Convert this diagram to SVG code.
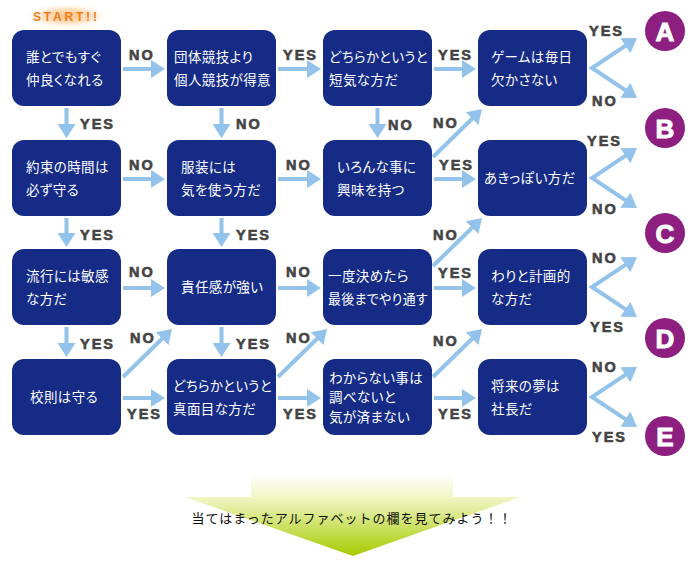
<svg xmlns="http://www.w3.org/2000/svg" width="690" height="580" viewBox="0 0 690 580">
<defs>
<style>
.node rect{fill:#152b86;}
.node text{fill:#ffffff;font-family:"Noto Sans CJK JP","Noto Sans",sans-serif;font-size:13.5px;font-feature-settings:"palt";letter-spacing:0.4px;}
.conn line,.conn path{stroke:#93c3ea;stroke-width:4;fill:none;marker-end:url(#ah);}
.conn path.chev{marker-start:url(#ah);stroke-linejoin:miter;}
.lbl{font-family:"Liberation Sans",Arial,sans-serif;font-weight:bold;font-size:14.5px;fill:#444444;stroke:#444444;stroke-width:0.6px;letter-spacing:2px;}
.res circle{fill:#8d1f81;}
.res text{fill:#ffffff;font-family:"Liberation Sans",Arial,sans-serif;font-weight:bold;font-size:26px;text-anchor:middle;stroke:#ffffff;stroke-width:1;}
</style>
<marker id="ah" viewBox="0 0 14 18" refX="4" refY="9" markerWidth="14" markerHeight="18" markerUnits="userSpaceOnUse" orient="auto-start-reverse">
<path d="M0,0 L14,9 L0,18 Z" fill="#93c3ea"/>
</marker>
<radialGradient id="glow" cx="0.5" cy="0.5" r="0.5">
<stop offset="0" stop-color="#ffbf80" stop-opacity="1"/>
<stop offset="0.55" stop-color="#ffd9b0" stop-opacity="0.75"/>
<stop offset="1" stop-color="#ffffff" stop-opacity="0"/>
</radialGradient>
<linearGradient id="bigarrow" gradientUnits="userSpaceOnUse" x1="0" y1="473" x2="0" y2="556">
<stop offset="0" stop-color="#ffffff"/>
<stop offset="0.29" stop-color="#f1f6c6"/>
<stop offset="1" stop-color="#a6cb00"/>
</linearGradient>
</defs>

<g id="start">
<ellipse cx="67" cy="16" rx="44" ry="13" fill="url(#glow)"/>
<text x="33" y="20.5" font-family="Liberation Sans, Arial, sans-serif" font-weight="bold" font-size="12" fill="#f07d1c" letter-spacing="2.8">START!!</text>
</g>

<g id="connectors" class="conn">
<line x1="123" y1="69" x2="155" y2="69"/>
<line x1="278" y1="69" x2="311" y2="69"/>
<line x1="434" y1="69" x2="466" y2="69"/>
<line x1="123" y1="179" x2="155" y2="179"/>
<line x1="278" y1="179" x2="311" y2="179"/>
<line x1="434" y1="179" x2="466" y2="179"/>
<line x1="123" y1="288" x2="155" y2="288"/>
<line x1="278" y1="288" x2="311" y2="288"/>
<line x1="434" y1="288" x2="466" y2="288"/>
<line x1="123" y1="398" x2="155" y2="398"/>
<line x1="278" y1="398" x2="311" y2="398"/>
<line x1="434" y1="398" x2="466" y2="398"/>
<line x1="66.5" y1="108" x2="66.5" y2="128"/>
<line x1="66.5" y1="218" x2="66.5" y2="237"/>
<line x1="66.5" y1="327" x2="66.5" y2="347"/>
<line x1="221.5" y1="108" x2="221.5" y2="128"/>
<line x1="221.5" y1="218" x2="221.5" y2="237"/>
<line x1="221.5" y1="327" x2="221.5" y2="347"/>
<line x1="377.5" y1="108" x2="377.5" y2="128"/>
<line x1="433" y1="157" x2="474.9" y2="116"/>
<line x1="433" y1="266" x2="474.9" y2="225"/>
<line x1="123" y1="377" x2="164.9" y2="336"/>
<line x1="278" y1="377" x2="319.9" y2="336"/>
<line x1="433" y1="377" x2="474.9" y2="336"/>
<path class="chev" d="M628.7,43.6 L592,68 L628.7,92.4"/>
<path class="chev" d="M628.7,153.6 L592,178 L628.7,202.4"/>
<path class="chev" d="M628.7,262.6 L592,287 L628.7,311.4"/>
<path class="chev" d="M628.7,372.6 L592,397 L628.7,421.4"/>
</g>

<g id="labels" class="lbl">
<text x="129" y="60">NO</text>
<text x="283" y="60">YES</text>
<text x="438" y="60">YES</text>
<text x="80" y="129">YES</text>
<text x="236" y="129">NO</text>
<text x="388" y="130">NO</text>
<text x="433" y="128">NO</text>
<text x="129" y="170">NO</text>
<text x="286" y="170">NO</text>
<text x="439" y="170">YES</text>
<text x="80" y="240">YES</text>
<text x="236" y="240">YES</text>
<text x="433" y="240">NO</text>
<text x="129" y="277">NO</text>
<text x="286" y="277">NO</text>
<text x="438" y="278">YES</text>
<text x="80" y="349">YES</text>
<text x="236" y="349">YES</text>
<text x="130" y="343">NO</text>
<text x="286" y="343">NO</text>
<text x="433" y="346">NO</text>
<text x="127" y="419">YES</text>
<text x="283" y="419">YES</text>
<text x="438" y="419">YES</text>
<text x="589" y="36">YES</text>
<text x="592" y="106">NO</text>
<text x="587" y="146">YES</text>
<text x="592" y="214">NO</text>
<text x="592" y="263">NO</text>
<text x="590" y="332">YES</text>
<text x="592" y="372">NO</text>
<text x="592" y="442">YES</text>
</g>

<g id="n11" class="node"><rect x="12" y="30" width="109" height="76" rx="12"/><text x="26" y="62">誰とでもすぐ</text><text x="26" y="85">仲良くなれる</text></g>
<g id="n12" class="node"><rect x="167" y="30" width="109" height="76" rx="12"/><text x="174" y="62">団体競技より</text><text x="174" y="85">個人競技が得意</text></g>
<g id="n13" class="node"><rect x="323" y="30" width="109" height="76" rx="12"/><text x="329" y="62" textLength="99" lengthAdjust="spacingAndGlyphs">どちらかというと</text><text x="329" y="85">短気な方だ</text></g>
<g id="n14" class="node"><rect x="478" y="30" width="109" height="76" rx="12"/><text x="491" y="62">ゲームは毎日</text><text x="491" y="85">欠かさない</text></g>

<g id="n21" class="node"><rect x="12" y="140" width="109" height="76" rx="12"/><text x="26" y="172">約束の時間は</text><text x="26" y="195">必ず守る</text></g>
<g id="n22" class="node"><rect x="167" y="140" width="109" height="76" rx="12"/><text x="181" y="172">服装には</text><text x="181" y="195">気を使う方だ</text></g>
<g id="n23" class="node"><rect x="323" y="140" width="109" height="76" rx="12"/><text x="337" y="172">いろんな事に</text><text x="337" y="195">興味を持つ</text></g>
<g id="n24" class="node"><rect x="478" y="140" width="109" height="76" rx="12"/><text x="484" y="183">あきっぽい方だ</text></g>

<g id="n31" class="node"><rect x="12" y="249" width="109" height="76" rx="12"/><text x="26" y="281">流行には敏感</text><text x="26" y="304">な方だ</text></g>
<g id="n32" class="node"><rect x="167" y="249" width="109" height="76" rx="12"/><text x="181" y="292">責任感が強い</text></g>
<g id="n33" class="node"><rect x="323" y="249" width="109" height="76" rx="12"/><text x="328" y="281">一度決めたら</text><text x="328" y="304" textLength="100" lengthAdjust="spacingAndGlyphs">最後までやり通す</text></g>
<g id="n34" class="node"><rect x="478" y="249" width="109" height="76" rx="12"/><text x="491" y="281">わりと計画的</text><text x="491" y="304">な方だ</text></g>

<g id="n41" class="node"><rect x="12" y="359" width="109" height="76" rx="12"/><text x="30" y="402">校則は守る</text></g>
<g id="n42" class="node"><rect x="167" y="359" width="109" height="76" rx="12"/><text x="173" y="391" textLength="99" lengthAdjust="spacingAndGlyphs">どちらかというと</text><text x="173" y="414">真面目な方だ</text></g>
<g id="n43" class="node"><rect x="323" y="359" width="109" height="76" rx="12"/><text x="329" y="382.5">わからない事は</text><text x="329" y="401.5">調べないと</text><text x="329" y="421.5">気が済まない</text></g>
<g id="n44" class="node"><rect x="478" y="359" width="109" height="76" rx="12"/><text x="491" y="391">将来の夢は</text><text x="491" y="414">社長だ</text></g>

<g id="resA" class="res"><circle cx="665" cy="31" r="20"/><text x="665" y="40.5">A</text></g>
<g id="resB" class="res"><circle cx="665" cy="128" r="20"/><text x="665" y="137.5">B</text></g>
<g id="resC" class="res"><circle cx="665" cy="233" r="20"/><text x="665" y="242.5">C</text></g>
<g id="resD" class="res"><circle cx="665" cy="338" r="20"/><text x="665" y="347.5">D</text></g>
<g id="resE" class="res"><circle cx="665" cy="436" r="20"/><text x="665" y="445.5">E</text></g>

<g id="bottom">
<polygon points="251,473 453,473 453,497 520,497 353,556 185,497 251,497" fill="url(#bigarrow)"/>
<text x="352" y="523" text-anchor="middle" font-family="Noto Sans CJK JP, Noto Sans, sans-serif" font-size="13" letter-spacing="1" fill="#111111">当てはまったアルファベットの欄を見てみよう！！</text>
</g>
</svg>
